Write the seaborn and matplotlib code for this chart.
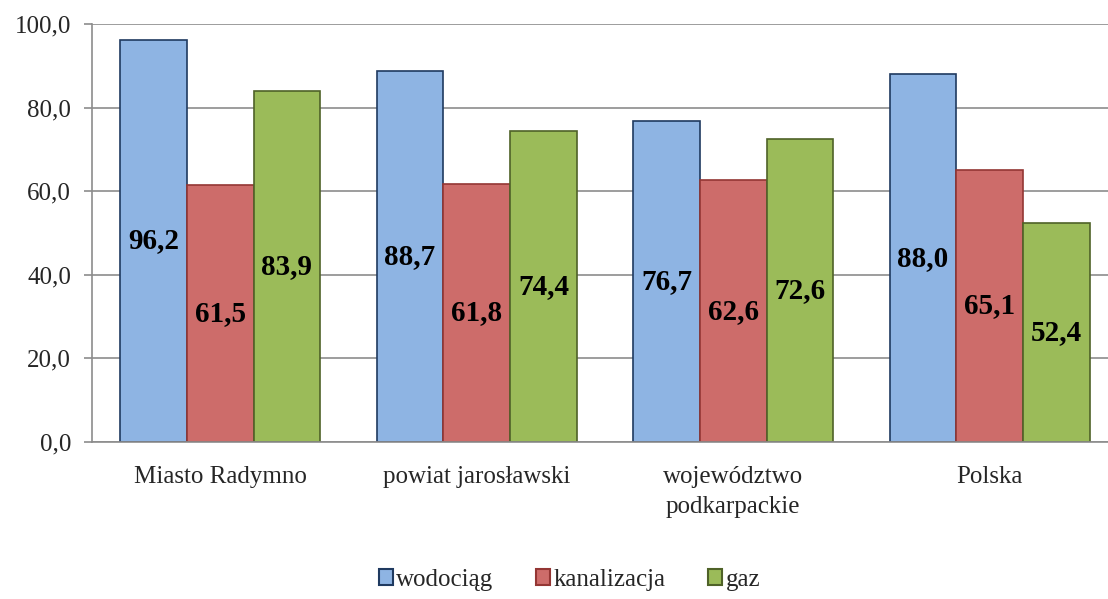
import matplotlib
matplotlib.use('Agg')
import matplotlib.pyplot as plt
import seaborn as sns
import pandas as pd
import numpy as np
from matplotlib.ticker import FixedLocator, FuncFormatter

regions = ['Miasto Radymno', 'powiat jarosławski', 'województwo\npodkarpackie', 'Polska']
series = ['wodociąg', 'kanalizacja', 'gaz']
wodociag = [96.2, 88.7, 76.7, 88.0]
kanalizacja = [61.5, 61.8, 62.6, 65.1]
gaz = [83.9, 74.4, 72.6, 52.4]

fills = ['#8EB4E3', '#CD6C6A', '#9BBB59']
edges = ['#1F3A60', '#943634', '#4F6228']

df = pd.DataFrame({
    'region': regions * 3,
    'seria': [s for s in series for _ in regions],
    'wartosc': wodociag + kanalizacja + gaz,
})

sns.set_style('white')
plt.rcParams['font.family'] = ['Liberation Serif', 'DejaVu Serif']

fig = plt.figure(figsize=(11.08, 5.99), dpi=100)
# the plot area runs past the right edge of the picture, as in the original
ax = fig.add_axes([0.083, 0.262, 0.926, 0.698])

sns.barplot(data=df, x='region', y='wartosc', hue='seria', order=regions,
            hue_order=series, palette=fills, width=0.78, saturation=1,
            ax=ax, legend=False)

for cont, ec in zip(ax.containers, edges):
    for bar in cont:
        bar.set_edgecolor(ec)
        bar.set_linewidth(1.2)
    labels = [f'{v:.1f}'.replace('.', ',') for v in cont.datavalues]
    ax.bar_label(cont, labels=labels, label_type='center', fontsize=21,
                 fontweight='bold', color='black')

ax.set_ylim(0, 100)
ax.set_xlim(-0.5, len(regions) - 0.5)
ax.set_yticks(np.arange(0, 101, 20))
ax.yaxis.set_major_formatter(FuncFormatter(lambda v, p: f'{v:.1f}'.replace('.', ',')))
ax.yaxis.grid(True, color='#8C8C8C', linewidth=1.2)
ax.set_axisbelow(True)
ax.set_xlabel('')
ax.set_ylabel('')

for s in ['top', 'right']:
    ax.spines[s].set_visible(False)
for s in ['left', 'bottom']:
    ax.spines[s].set_color('#8C8C8C')
    ax.spines[s].set_linewidth(1.2)

ax.tick_params(axis='x', which='major', length=0, labelsize=18, pad=17)
ax.xaxis.set_minor_locator(FixedLocator(np.arange(-0.5, len(regions), 1)))
ax.tick_params(axis='x', which='minor', length=6, color='#8C8C8C', width=1.2)
ax.tick_params(axis='y', which='major', length=6, color='#8C8C8C', width=1.2,
               labelsize=18, pad=9, direction='out', left=True)
for t in ax.get_xticklabels():
    t.set_linespacing(1.5)

handles = [plt.Rectangle((0, 0), 1, 1, facecolor=f, edgecolor=e, linewidth=1.5)
           for f, e in zip(fills, edges)]
fig.legend(handles, series, loc='center', bbox_to_anchor=(0.514, 0.032), ncol=3,
           frameon=False, fontsize=18, handlelength=0.55, handleheight=0.55,
           handletextpad=0.15, columnspacing=1.7)

fig.savefig('out.png', dpi=100)
